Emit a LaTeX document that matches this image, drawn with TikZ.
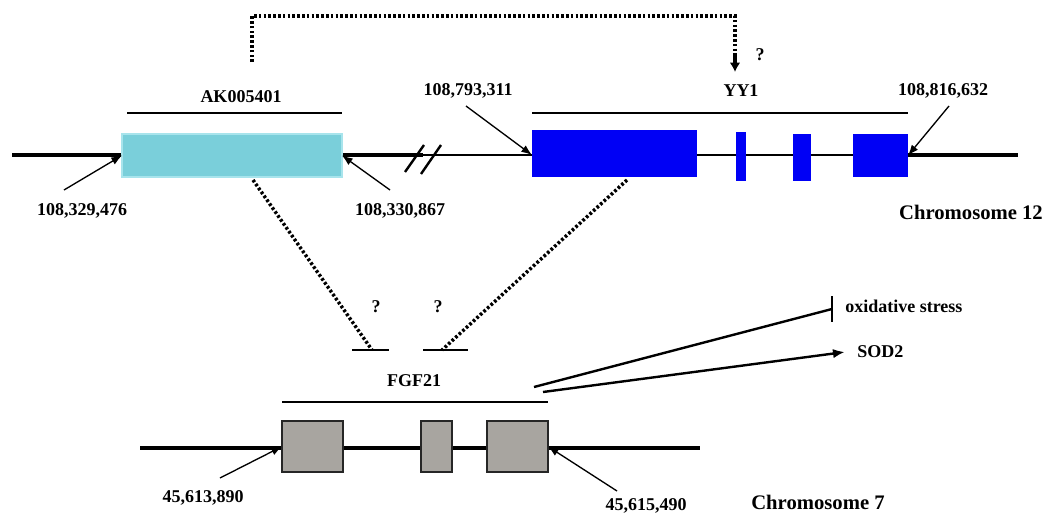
\documentclass[tikz,border=0pt]{standalone}
\usepackage{fontspec}
\setmainfont{Liberation Serif}
\usetikzlibrary{arrows.meta}
\definecolor{akcyan}{HTML}{7ACFDA}
\definecolor{akedge}{HTML}{A8E4EC}
\definecolor{yyblue}{HTML}{0000F5}
\definecolor{exgray}{HTML}{A8A5A0}
\begin{document}
\begin{tikzpicture}[x=0.75pt,y=-0.75pt,
  lbl/.style={font=\bfseries\fontsize{13.5}{15}\selectfont, inner sep=0pt},
  chrlbl/.style={font=\bfseries\fontsize{15.5}{17}\selectfont, inner sep=0pt},
  akbox/.style={fill=akcyan, draw=akedge, line width=0.8pt, inner sep=0pt, outer sep=0pt},
  yybox/.style={fill=yyblue, draw=none, inner sep=0pt, outer sep=0pt},
  fgbox/.style={fill=exgray, draw=black!85, line width=1.1pt, inner sep=0pt, outer sep=0pt},
  chrthick/.style={line width=2.4pt},
  chrthin/.style={line width=1.4pt},
  genebar/.style={line width=1pt},
  ptr/.style={line width=1pt, -{Latex[length=8pt,width=6pt]}},
  dots/.style={line width=2.6pt, dash pattern=on 2pt off 1.6pt},
  effect/.style={line width=1.8pt}
]
\useasboundingbox (0,0) rectangle (1047,514);

% ---------- Chromosome 12 ----------
\coordinate (c12l) at (12,155);
\coordinate (c12r) at (1018,155);
\coordinate (brk) at (423,155);
\coordinate (g1) at (697,155);
\coordinate (g2) at (736,155);
\coordinate (g3) at (746,155);
\coordinate (g4) at (793,155);
\coordinate (g5) at (811,155);
\coordinate (g6) at (853,155);

\draw[chrthick] (c12l) -- (122,155);
\draw[chrthick] (342,155) -- (brk);
\draw[chrthin] (brk) -- (532,155);
\draw[line width=1.8pt] (g1) -- (g2);
\draw[line width=1.8pt] (g3) -- (g4);
\draw[line width=1.8pt] (g5) -- (g6);
\draw[chrthick] (908,155) -- (c12r);

\node[akbox, minimum width=165pt, minimum height=32.25pt] (ak) at (232,155.5) {};
\node[yybox, minimum width=123.75pt, minimum height=35.25pt] (y1) at (614.5,153.5) {};
\node[yybox, minimum width=7.5pt, minimum height=36.75pt] (y2) at (741,156.5) {};
\node[yybox, minimum width=13.5pt, minimum height=35.25pt] (y3) at (802,157.5) {};
\node[yybox, minimum width=41.25pt, minimum height=32.25pt] (y4) at (880.5,155.5) {};

% break marks
\coordinate (s1a) at (405,172); \coordinate (s1b) at (424,145);
\coordinate (s2a) at (421,174); \coordinate (s2b) at (441,145);
\draw[line width=1.8pt] (s1a) -- (s1b);
\draw[line width=1.8pt] (s2a) -- (s2b);

% gene bars and labels
\coordinate (akbl) at (127,113); \coordinate (akbr) at (342,113);
\draw[genebar] (akbl) -- (akbr);
\node[lbl] (aklbl) at (241,97) {AK005401};
\coordinate (yybl) at (532,113); \coordinate (yybr) at (908,113);
\draw[genebar] (yybl) -- (yybr);
\node[lbl] (yylbl) at (741,91) {YY1};

% position labels with arrows
\node[lbl] (p1) at (82,211) {108,329,476};
\coordinate (p1s) at (64,190);
\draw[ptr] (p1s) -- (ak.west);
\node[lbl] (p2) at (400,211) {108,330,867};
\coordinate (p2s) at (390,190);
\draw[ptr] (p2s) -- (ak.east);
\node[lbl] (p3) at (468,91) {108,793,311};
\coordinate (p3s) at (466,106);
\draw[ptr] (p3s) -- (y1.west |- c12l);
\node[lbl] (p4) at (943,91) {108,816,632};
\coordinate (p4s) at (949,106);
\draw[ptr] (p4s) -- (y4.east);
\node[chrlbl] (chr12) at (971,212) {Chromosome 12};

% dotted regulation AK -> YY1
\coordinate (fbs) at (252,62);
\coordinate (fb1) at (252,16);
\coordinate (fb2) at (735,16);
\coordinate (fbe) at (735,72);
\draw[dots] (fbs) -- (fb1) -- (fb2) -- ++(0,40);
\draw[line width=2.6pt, -{Latex[length=7pt,width=8pt]}] (735,55) -- (fbe);
\node[lbl] (q0) at (760,55) {?};

% ---------- Chromosome 7 ----------
\coordinate (c7l) at (140,448);
\coordinate (c7r) at (700,448);
\draw[line width=2.8pt] (c7l) -- (c7r);
\node[fgbox, minimum width=45.75pt, minimum height=38.25pt] (f1) at (312.5,446.5) {};
\node[fgbox, minimum width=23.25pt, minimum height=38.25pt] (f2) at (436.5,446.5) {};
\node[fgbox, minimum width=45.75pt, minimum height=38.25pt] (f3) at (517.5,446.5) {};
\coordinate (fgbl) at (282,402); \coordinate (fgbr) at (548,402);
\draw[genebar] (fgbl) -- (fgbr);
\node[lbl] (fglbl) at (414,381) {FGF21};

\node[lbl] (p5) at (203,498) {45,613,890};
\coordinate (p5s) at (220,478);
\draw[ptr] (p5s) -- (f1.west);
\node[lbl] (p6) at (646,506) {45,615,490};
\coordinate (p6s) at (617,491);
\draw[ptr] (p6s) -- (f3.east);
\node[chrlbl] (chr7) at (818,502) {Chromosome 7};

% inhibition bars on FGF21
\coordinate (t1l) at (352,350); \coordinate (t1r) at (389,350);
\coordinate (t1m) at (372,350);
\coordinate (t2l) at (423,350); \coordinate (t2r) at (468,350);
\coordinate (t2m) at (442,350);
\draw[line width=1.6pt] (t1l) -- (t1r);
\draw[line width=1.6pt] (t2l) -- (t2r);
\coordinate (aks) at (253,180);
\coordinate (yys) at (627,180);
\draw[dots] (aks) -- (t1m);
\draw[dots] (yys) -- (t2m);
\node[lbl] (q1) at (376,307) {?};
\node[lbl] (q2) at (438,307) {?};

% FGF21 effects
\coordinate (e1s) at (534,387);
\coordinate (e1e) at (832,309);
\coordinate (barT) at (832,296); \coordinate (barB) at (832,322);
\draw[effect] (e1s) -- (e1e);
\draw[line width=2pt] (barT) -- (barB);
\node[lbl, anchor=west] (ox) at (845,306) {oxidative stress};
\coordinate (e2s) at (543,392);
\coordinate (e2e) at (845,352);
\draw[effect, -{Latex[length=9pt,width=7pt]}] (e2s) -- (e2e);
\node[lbl, anchor=west] (sod) at (857,352) {SOD2};
\end{tikzpicture}
\end{document}
